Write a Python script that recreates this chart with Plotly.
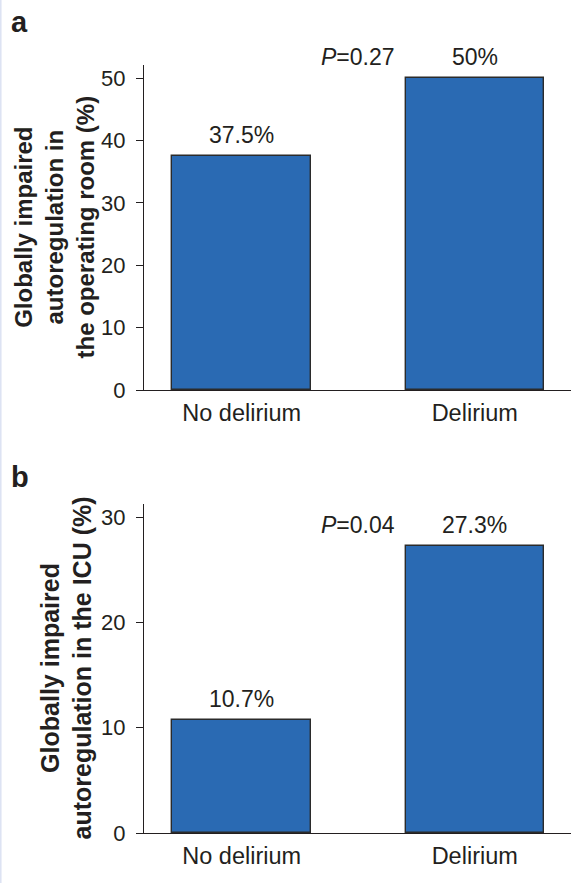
import plotly.graph_objects as go

# ---- data ----
categories = ["No delirium", "Delirium"]
or_values = [37.5, 50.0]          # panel a: operating room (%)
icu_values = [10.7, 27.3]         # panel b: ICU (%)
p_values = ["0.27", "0.04"]
or_ticks = [0, 10, 20, 30, 40, 50]
icu_ticks = [0, 10, 20, 30]
panel_letters = ["a", "b"]
y_titles = [
    "Globally impaired<br>autoregulation in<br>the operating room (%)",
    "Globally impaired<br>autoregulation in the ICU (%)",
]

W, H = 571, 883
FONT = "Liberation Sans, Arial, Helvetica, sans-serif"
TXT = "#231f20"
BAR = "#2a6ab3"
EDGE = "#2b2b2b"


def px_x(p):
    return p / W


def px_y(p):
    return 1 - p / H


fig = go.Figure()
fig.add_trace(go.Bar(x=categories, y=or_values, width=0.594,
                     marker=dict(color=BAR, line=dict(color=EDGE, width=1.4)),
                     xaxis="x", yaxis="y", showlegend=False, hoverinfo="skip"))
fig.add_trace(go.Bar(x=categories, y=icu_values, width=0.594,
                     marker=dict(color=BAR, line=dict(color=EDGE, width=1.4)),
                     xaxis="x2", yaxis="y2", showlegend=False, hoverinfo="skip"))

xcommon = dict(type="category", range=[-0.419, 1.413], showline=True, linecolor=TXT,
               linewidth=1.3, ticks="", showgrid=False, zeroline=False,
               tickfont=dict(size=23.5, color=TXT, family=FONT), automargin=False,
               fixedrange=True, ticklabelstandoff=2)
ycommon = dict(showline=True, linecolor=TXT, linewidth=1.3, ticks="outside", ticklen=7,
               tickwidth=1.3, tickcolor=TXT, showgrid=False, zeroline=False,
               tickfont=dict(size=22, color=TXT, family=FONT), automargin=False,
               fixedrange=True, ticklabelstandoff=6)

fig.update_layout(
    width=W, height=H,
    margin=dict(l=0, r=0, t=0, b=0),
    paper_bgcolor="white", plot_bgcolor="white",
    font=dict(family=FONT, color=TXT),
    bargap=0,
    xaxis=dict(xcommon, domain=[px_x(144), 1], anchor="y"),
    yaxis=dict(ycommon, domain=[px_y(390), px_y(65)], range=[0, 52.1],
               tickvals=or_ticks, anchor="x"),
    xaxis2=dict(xcommon, domain=[px_x(144), 1], anchor="y2"),
    yaxis2=dict(ycommon, domain=[px_y(833), px_y(504)], range=[0, 31.26],
                tickvals=icu_ticks, anchor="x2"),
)

annotations = []
panels = [("x", "y", or_values), ("x2", "y2", icu_values)]
for i, (xa, ya, vals) in enumerate(panels):
    for cat, v in zip(categories, vals):
        label = f"{v:g}%"
        annotations.append(dict(x=cat, y=v, xref=xa, yref=ya, text=label, showarrow=False,
                                xanchor="center", yanchor="bottom", yshift=6,
                                font=dict(size=23, color=TXT, family=FONT)))
    annotations.append(dict(x=0.5, y=max(vals), xref=xa, yref=ya,
                            text=f"<i>P</i>={p_values[i]}", showarrow=False,
                            xanchor="center", yanchor="bottom", yshift=6,
                            font=dict(size=23, color=TXT, family=FONT)))

# y-axis titles
annotations.append(dict(x=px_x(54), y=px_y(227.5), xref="paper", yref="paper",
                        text="<b>" + y_titles[0].replace("<br>", "</b><br><b>") + "</b>",
                        textangle=-90, showarrow=False, xanchor="center", yanchor="middle",
                        font=dict(size=24, color=TXT, family=FONT)))
annotations.append(dict(x=px_x(66), y=px_y(668.5), xref="paper", yref="paper",
                        text="<b>" + y_titles[1].replace("<br>", "</b><br><b>") + "</b>",
                        textangle=-90, showarrow=False, xanchor="center", yanchor="middle",
                        font=dict(size=25, color=TXT, family=FONT)))

# panel letters
annotations.append(dict(x=px_x(9), y=px_y(22), xref="paper", yref="paper",
                        text="<b>a</b>", showarrow=False, xanchor="left", yanchor="middle",
                        font=dict(size=29, color=TXT, family=FONT)))
annotations.append(dict(x=px_x(9), y=px_y(477), xref="paper", yref="paper",
                        text="<b>b</b>", showarrow=False, xanchor="left", yanchor="middle",
                        font=dict(size=29, color=TXT, family=FONT)))

fig.update_layout(annotations=annotations)

# faint left border as in the reference page
fig.add_shape(type="line", xref="paper", yref="paper", x0=0.001, x1=0.001, y0=0, y1=1,
              line=dict(color="#dde3f3", width=2))

fig.write_html("out.html", config={"displayModeBar": False},
               post_script="document.body.style.margin='0';document.body.style.overflow='hidden';")
